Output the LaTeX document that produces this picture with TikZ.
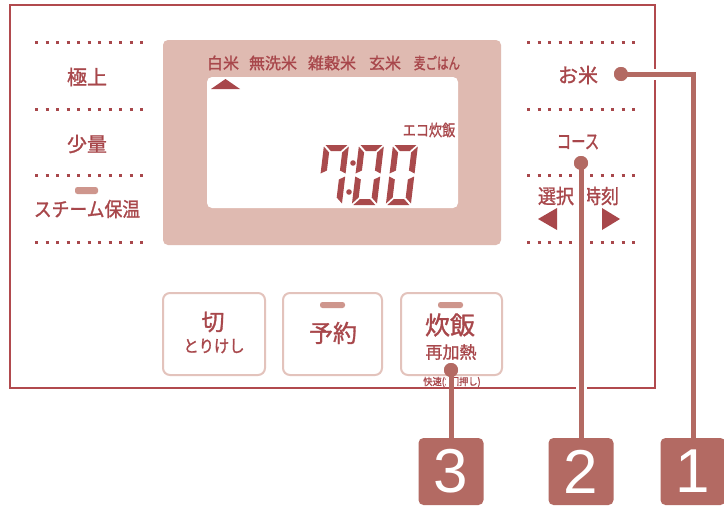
\documentclass[tikz,border=0pt]{standalone}
\usepackage{fontspec}
\newfontfamily\jp[FakeBold=1.3]{Noto Sans CJK JP}
\newfontfamily\numfont{Liberation Sans}
\definecolor{textred}{HTML}{A8474B}
\definecolor{panelred}{HTML}{B14A4E}
\definecolor{lead}{HTML}{B36A63}
\definecolor{lcdbg}{HTML}{DFBAB1}
\definecolor{btnline}{HTML}{E3C3BC}
\definecolor{lampcol}{HTML}{CE968D}
\definecolor{segcol}{HTML}{A94A4C}
\newcommand\segA{(1.5,0) -- (23.5,0) -- (17.5,6) -- (7.5,6) -- cycle}
\newcommand\segB{(25,1.5) -- (25,28.5) -- (19,25.5) -- (19,7.5) -- cycle}
\newcommand\segC{(25,31.5) -- (25,58.5) -- (19,52.5) -- (19,34.5) -- cycle}
\newcommand\segD{(1.5,60) -- (23.5,60) -- (17.5,54) -- (7.5,54) -- cycle}
\newcommand\segE{(0,31.5) -- (0,58.5) -- (6,52.5) -- (6,34.5) -- cycle}
\newcommand\segF{(0,1.5) -- (0,28.5) -- (6,25.5) -- (6,7.5) -- cycle}
\tikzset{
  lbl/.style={text=textred, inner sep=0pt, font=\jp\fontsize{#1}{#1}\selectfont},
  dotrule/.style={draw=textred, line width=3pt, dash pattern=on 3pt off 7.5pt},
  btn/.style={draw=btnline, line width=2pt, fill=white, rounded corners=7pt},
  lamp/.style={fill=lampcol, rounded corners=2.5pt},
  leadline/.style={draw=lead, line width=5pt},
  halo/.style={draw=white, line width=11pt},
  leaddot/.style={circle, fill=lead, minimum size=14pt, inner sep=0pt},
  numbox/.style={fill=lead, rounded corners=5pt, minimum width=65pt, minimum height=67pt, inner sep=0pt,
     text=white, font=\numfont\fontsize{62}{62}\selectfont},
  seg/.style={fill=segcol}
}
\begin{document}
\begin{tikzpicture}[x=1pt,y=-1pt]
\useasboundingbox (0,0) rectangle (724,506);
\fill[white] (0,0) rectangle (724,506);
% panel
\draw[panelred, line width=2.5pt] (10,5) rectangle (655,388);
% dotted rules
\foreach \yy in {42,109,175,242} {
  \draw[dotrule] (35,\yy) -- (143,\yy);
  \draw[dotrule] (527,\yy) -- (635,\yy);
}
% left labels
\node[lbl=20] (gokujo) at (87,77) {極上};
\node[lbl=20] (shoryo) at (87,144) {少量};
\fill[lamp] (75,187) rectangle (98,194);
\node[lbl=20, xscale=0.89, transform shape] (steam) at (87,209) {スチーム保温};
% right labels
\node[lbl=20] (okome) at (578,75) {お米};
\node[lbl=20, xscale=0.72, transform shape] (course) at (578,142) {コース};
\node[lbl=20, xscale=0.9, transform shape] (sentaku) at (556,196) {選択};
\node[lbl=20, xscale=0.9, transform shape] (jikoku) at (601,196) {時刻};
\fill[textred] (538,219) -- (557,208) -- (557,230) -- cycle;
\fill[textred] (620,219) -- (602,208) -- (602,230) -- cycle;
% LCD
\fill[lcdbg, rounded corners=5pt] (163,40) rectangle (501,245);
\fill[white, rounded corners=5pt] (207,77) rectangle (458,208);
\node[lbl=16] (hakumai) at (223,63) {白米};
\node[lbl=16] (musenmai) at (273,63) {無洗米};
\node[lbl=16] (zakkoku) at (332,63) {雑穀米};
\node[lbl=16] (genmai) at (385,63) {玄米};
\node[lbl=16, xscale=0.72, transform shape] (mugi) at (437,63) {麦ごはん};
\fill[textred] (211,89) -- (240,89) -- (225.5,79) -- cycle;
\node[lbl=16, xscale=0.82, transform shape] (eco) at (429,130) {エコ炊飯};
% seven segment digits
\begin{scope}[shift={(324,145)}, xslant=0.12]
  \fill[seg] \segA; \fill[seg] \segB; \fill[seg] \segC; \fill[seg] \segF;
\end{scope}
\foreach \xx in {359,393} {
\begin{scope}[shift={(\xx,145)}, xslant=0.12]
  \fill[seg] \segA; \fill[seg] \segB; \fill[seg] \segC;
  \fill[seg] \segD; \fill[seg] \segE; \fill[seg] \segF;
\end{scope}
}
\fill[seg] (353,163) circle (2.8pt);
\fill[seg] (349,192) circle (2.8pt);
% buttons
\draw[btn] (163,293) rectangle (265,375);
\draw[btn] (283,293) rectangle (382,375);
\draw[btn] (401,293) rectangle (502,375);
\node[lbl=23] (kiri) at (213,322) {切};
\node[lbl=17, xscale=0.9, transform shape] (torikeshi) at (214,346) {とりけし};
\fill[lamp] (320,302) rectangle (345,308);
\node[lbl=24] (yoyaku) at (333,333) {予約};
\fill[lamp] (438,302) rectangle (463,308);
\node[lbl=25] (suihan) at (450,325) {炊飯};
\node[lbl=17] (saikanetsu) at (451,352) {再加熱};
\node[lbl=10, xscale=0.92, transform shape] (kaisoku) at (452,382) {快速(2回押し)};
% leader dots and number boxes
\node[leaddot] (dot1) at (621,74) {};
\node[leaddot] (dot2) at (581,163) {};
\node[leaddot] (dot3) at (451,370) {};
\node[numbox] (box1) at (693,471.5) {\raisebox{-3pt}{1}};
\node[numbox] (box2) at (581,471.5) {\raisebox{-3pt}{2}};
\node[numbox] (box3) at (451,471.5) {\raisebox{-3pt}{3}};
\coordinate (h3a) at (451,378);
\coordinate (h3b) at (451,386);
% halos
\draw[halo] (dot1.center) -| (box1.north);
\draw[halo] (dot2.center) -- (box2.north);
\draw[halo] (h3a) -- (h3b);
% leader lines
\draw[leadline] (dot1.center) -| (box1.north);
\draw[leadline] (dot2.center) -- (box2.north);
\draw[leadline] (dot3.center) -- (box3.north);
\node[leaddot] at (dot1) {};
\node[leaddot] at (dot2) {};
\node[leaddot] at (dot3) {};
\end{tikzpicture}
\end{document}
